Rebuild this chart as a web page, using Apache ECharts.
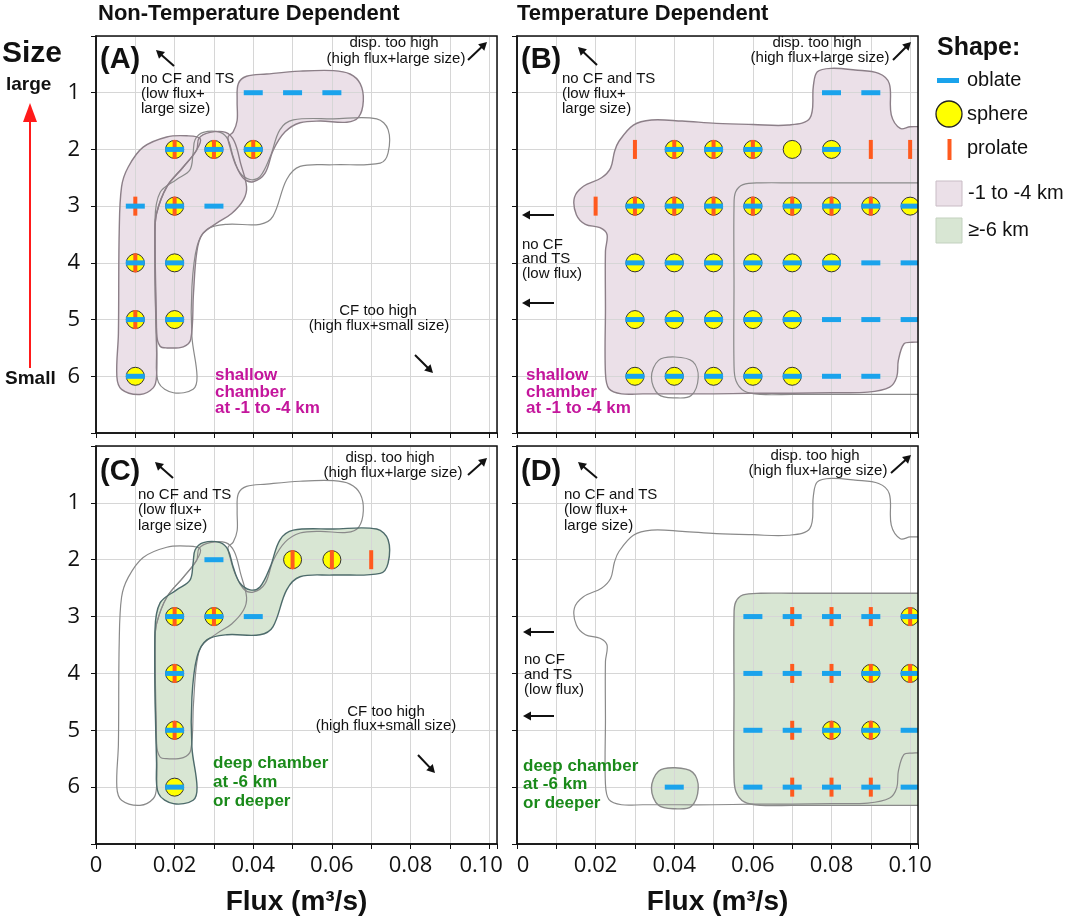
<!DOCTYPE html>
<html><head><meta charset="utf-8">
<script src="https://cdn.jsdelivr.net/npm/echarts@6/dist/echarts.min.js"></script>
<style>html,body{margin:0;padding:0;background:#fff}#c{width:1065px;height:921px}</style>
</head><body><div id="c"></div>
<script>
// ---------- tick labels ----------
const xTickLabels = ['0','0.02','0.04','0.06','0.08','0.10'];
const yTickLabels = ['1','2','3','4','5','6'];

// ---------- model results: [flux, size, shape code] (o = oblate, s = sphere, p = prolate) ----------
const pointsA = [
  [0.04,1,'o'],[0.05,1,'o'],[0.06,1,'o'],
  [0.02,2,'sop'],[0.03,2,'sop'],[0.04,2,'sop'],
  [0.01,3,'op'],[0.02,3,'sop'],[0.03,3,'o'],
  [0.01,4,'sop'],[0.02,4,'so'],
  [0.01,5,'sop'],[0.02,5,'so'],
  [0.01,6,'so']
];
const pointsB = [
  [0.08,1,'o'],[0.09,1,'o'],
  [0.03,2,'p'],[0.04,2,'sop'],[0.05,2,'sop'],[0.06,2,'sop'],[0.07,2,'s'],[0.08,2,'so'],[0.09,2,'p'],[0.10,2,'p'],
  [0.02,3,'p'],[0.03,3,'sop'],[0.04,3,'sop'],[0.05,3,'sop'],[0.06,3,'sop'],[0.07,3,'sop'],[0.08,3,'sop'],[0.09,3,'sop'],[0.10,3,'so'],
  [0.03,4,'so'],[0.04,4,'so'],[0.05,4,'so'],[0.06,4,'so'],[0.07,4,'so'],[0.08,4,'so'],[0.09,4,'o'],[0.10,4,'o'],
  [0.03,5,'so'],[0.04,5,'so'],[0.05,5,'so'],[0.06,5,'so'],[0.07,5,'so'],[0.08,5,'o'],[0.09,5,'o'],[0.10,5,'o'],
  [0.03,6,'so'],[0.04,6,'so'],[0.05,6,'so'],[0.06,6,'so'],[0.07,6,'so'],[0.08,6,'o'],[0.09,6,'o']
];
const pointsC = [
  [0.03,2,'o'],[0.05,2,'sp'],[0.06,2,'sp'],[0.07,2,'p'],
  [0.02,3,'sop'],[0.03,3,'sop'],[0.04,3,'o'],
  [0.02,4,'sop'],[0.02,5,'sop'],[0.02,6,'so']
];
const pointsD = [
  [0.06,3,'o'],[0.07,3,'op'],[0.08,3,'op'],[0.09,3,'op'],[0.10,3,'sop'],
  [0.06,4,'o'],[0.07,4,'op'],[0.08,4,'op'],[0.09,4,'sop'],[0.10,4,'sop'],
  [0.06,5,'o'],[0.07,5,'op'],[0.08,5,'sop'],[0.09,5,'sop'],[0.10,5,'o'],
  [0.04,6,'o'],[0.06,6,'o'],[0.07,6,'op'],[0.08,6,'op'],[0.09,6,'op'],[0.10,6,'o']
];

// ---------- chamber regions, outlines in (flux, size) ----------
const shallowNT_left = [[0.0053,6.0],[0.0065,6.23],[0.0112,6.32],[0.0146,6.2],[0.0154,6.0],[0.0154,5.24],[0.0150,3.48],[0.0154,3.13],[0.0180,2.66],[0.0222,2.31],[0.0256,2.01],[0.0265,1.81],[0.0231,1.76],[0.0180,1.78],[0.0120,1.96],[0.0082,2.31],[0.0065,2.66],[0.0059,3.48],[0.0057,5.24]];
const shallowNT_mid = [[0.0262,1.80],[0.0290,1.70],[0.0330,1.70],[0.0352,1.86],[0.0368,2.25],[0.0383,2.66],[0.0375,2.89],[0.0345,3.13],[0.0307,3.30],[0.0269,3.51],[0.0256,3.83],[0.0248,4.53],[0.0241,5.35],[0.0222,5.48],[0.0180,5.50],[0.0163,5.47],[0.0154,5.24],[0.0150,3.48],[0.0154,3.13],[0.0180,2.66],[0.0222,2.31],[0.0256,2.01]];
const shallowNT_top = [[0.0362,0.84],[0.0383,0.71],[0.0434,0.67],[0.0519,0.62],[0.0604,0.61],[0.0646,0.67],[0.0672,0.84],[0.0680,1.14],[0.0668,1.43],[0.0638,1.52],[0.0570,1.50],[0.0519,1.53],[0.0481,1.69],[0.0451,2.01],[0.0430,2.42],[0.0400,2.57],[0.0375,2.51],[0.0354,2.25],[0.0341,1.96],[0.0336,1.78],[0.0349,1.69],[0.0359,1.49],[0.0359,1.14]];
const deepNT = [[0.0197,6.29],[0.0159,6.11],[0.0154,5.58],[0.0150,3.24],[0.0163,2.76],[0.0205,2.53],[0.0239,2.36],[0.0247,2.06],[0.0252,1.83],[0.0273,1.70],[0.0316,1.70],[0.0336,1.83],[0.0349,2.13],[0.0366,2.41],[0.0392,2.53],[0.0417,2.48],[0.0443,2.13],[0.0468,1.65],[0.0502,1.48],[0.0604,1.46],[0.0714,1.46],[0.0743,1.65],[0.0743,2.06],[0.0723,2.24],[0.0603,2.27],[0.0519,2.30],[0.0485,2.53],[0.0450,3.18],[0.0417,3.32],[0.0333,3.32],[0.0282,3.41],[0.0257,3.71],[0.0244,4.42],[0.0244,5.30],[0.0257,6.0],[0.0247,6.23]];
const shallowT = [[0.0259,1.86],[0.0296,1.57],[0.0342,1.48],[0.0420,1.50],[0.0507,1.54],[0.0600,1.56],[0.0690,1.57],[0.0745,1.45],[0.0754,0.87],[0.0764,0.63],[0.0800,0.57],[0.0860,0.60],[0.0920,0.66],[0.0947,0.84],[0.0952,1.39],[0.0975,1.63],[0.1000,1.60],[0.1030,1.60],[0.1050,1.60],[0.1050,2.2],[0.1050,3.5],[0.1050,4.8],[0.1050,5.40],[0.1030,5.40],[0.1005,5.40],[0.0984,5.43],[0.0970,5.72],[0.0966,6.01],[0.0948,6.19],[0.0892,6.28],[0.0800,6.29],[0.0700,6.30],[0.0597,6.30],[0.0500,6.31],[0.0414,6.31],[0.0320,6.31],[0.0266,6.31],[0.0234,6.22],[0.0225,5.95],[0.0225,4.8],[0.0225,3.79],[0.0229,3.50],[0.0211,3.38],[0.0174,3.32],[0.0151,3.15],[0.0146,2.85],[0.0169,2.65],[0.0215,2.50],[0.0238,2.33],[0.0248,2.04]];
const deepT_block = [[0.0552,3.0],[0.0556,2.75],[0.0575,2.62],[0.0620,2.59],[0.0700,2.59],[0.0800,2.59],[0.0900,2.59],[0.0980,2.59],[0.1020,2.59],[0.1050,2.59],[0.1050,3.0],[0.1050,4.5],[0.1050,6.0],[0.1050,6.32],[0.1020,6.32],[0.0980,6.32],[0.0900,6.32],[0.0800,6.32],[0.0700,6.32],[0.0620,6.32],[0.0578,6.26],[0.0557,6.08],[0.0552,5.8],[0.0552,4.4]];
const deepT_small = [[0.0342,6.02],[0.0360,5.72],[0.0402,5.66],[0.0447,5.74],[0.0461,6.02],[0.0443,6.34],[0.0402,6.38],[0.0360,6.32]];

// ---------- styles ----------
const PINK = '#ebe0e8', PINK_LINE = '#8c7f88';
const GREEN = '#d8e6d3', GREEN_LINE = '#4d6b6b';
const GRAY_LINE = '#8a8a8a';
const BLUE = '#1aa3ec', ORANGE = '#ff5a1e', YELLOW = '#ffff00';
const SANS = "'Liberation Sans', Arial, sans-serif";
const TICKFONT = "'Open Sans', sans-serif";

const grids = [
  {left:96, top:36, width:401, height:397},
  {left:517, top:36, width:401, height:397},
  {left:96, top:446, width:401, height:398},
  {left:517, top:446, width:401, height:398}
];

function markerRender(list){
  return function(params, api){
    const t = list[params.dataIndex][2];
    const c = api.coord([api.value(0), api.value(1)]);
    const kids = [];
    if (t.indexOf('s') >= 0) kids.push({type:'circle', shape:{cx:c[0], cy:c[1], r:9}, style:{fill:YELLOW, stroke:'#333', lineWidth:1}});
    if (t.indexOf('p') >= 0) kids.push({type:'rect', shape:{x:c[0]-2, y:c[1]-9.5, width:4, height:19}, style:{fill:ORANGE}});
    if (t.indexOf('o') >= 0) kids.push({type:'rect', shape:{x:c[0]-9.5, y:c[1]-2.5, width:19, height:5}, style:{fill:BLUE}});
    return {type:'group', children:kids};
  };
}
function markerSeries(gi, list){
  return {type:'custom', xAxisIndex:gi, yAxisIndex:gi, z:6, clip:true, silent:true,
    data:list.map(p=>[p[0],p[1]]), renderItem:markerRender(list)};
}
function polySeries(gi, parts, style, z){
  return {type:'custom', xAxisIndex:gi, yAxisIndex:gi, z:z, clip:true, silent:true,
    data:parts.map(()=>[0.05,3]),
    renderItem:(params, api)=>({type:'polygon',
      shape:{points:parts[params.dataIndex].map(p=>api.coord(p)), smooth:0.35},
      style:style})};
}

const panels = [
  {fill:[shallowNT_left, shallowNT_mid, shallowNT_top], fillColor:PINK, fillLine:PINK_LINE, other:[deepNT], pts:pointsA},
  {fill:[shallowT], fillColor:PINK, fillLine:PINK_LINE, other:[deepT_block, deepT_small], pts:pointsB},
  {fill:[deepNT], fillColor:GREEN, fillLine:GREEN_LINE, other:[shallowNT_left, shallowNT_mid, shallowNT_top], pts:pointsC},
  {fill:[deepT_block, deepT_small], fillColor:GREEN, fillLine:GRAY_LINE, other:[shallowT], pts:pointsD}
];

const series = [];
panels.forEach((p, gi)=>{
  series.push(polySeries(gi, p.fill, {fill:p.fillColor, stroke:null, lineWidth:0}, 0));
  series.push(polySeries(gi, p.other, {fill:'none', stroke:GRAY_LINE, lineWidth:1.2}, 3));
  series.push(polySeries(gi, p.fill, {fill:'none', stroke:p.fillLine, lineWidth:1.4}, 4));
  series.push(markerSeries(gi, p.pts));
});

const xAxes = grids.map((g, gi)=>({
  type:'value', gridIndex:gi, min:0, max:0.102, interval:0.01, z:1,
  axisLine:{show:true, onZero:false, lineStyle:{color:'#111', width:1.5}},
  axisTick:{show:true, length:5, lineStyle:{color:'#111', width:1}},
  axisLabel:{show:gi>=2, margin:11, fontSize:22, fontFamily:TICKFONT, color:'#111',
    formatter:v=>{
      const k=Math.round(v*1000); if (k%20!==0) return '';
      const s = xTickLabels[k/20]||'';
      if (gi===3 && k===0) return '{z|'+s+'}';
      if (gi===2 && k===100) return '{r|'+s+'}';
      return s;
    },
    rich:{
      z:{fontSize:22, fontFamily:TICKFONT, color:'#111', padding:[0,0,0,12]},
      r:{fontSize:22, fontFamily:TICKFONT, color:'#111', padding:[0,16,0,0]}
    }},
  splitLine:{show:true, lineStyle:{color:'#d6d6d6', width:1}},
  name: gi>=2 ? 'Flux (m³/s)' : '', nameLocation:'middle', nameGap:44,
  nameTextStyle:{fontSize:28, fontWeight:'bold', fontFamily:SANS, color:'#111'}
}));
const yAxes = grids.map((g, gi)=>({
  type:'value', gridIndex:gi, min:0, max:7, interval:1, inverse:true, z:1,
  axisLine:{show:true, onZero:false, lineStyle:{color:'#111', width:1.5}},
  axisTick:{show:true, length:5, lineStyle:{color:'#111', width:1}},
  axisLabel:{show:gi%2===0, margin:16, fontSize:22, fontFamily:TICKFONT, color:'#111',
    formatter:v=>{const k=Math.round(v); return (k>=1&&k<=6)? yTickLabels[k-1] : '';}},
  splitLine:{show:true, lineStyle:{color:'#d6d6d6', width:1}}
}));

// ---------- annotations ----------
const graphics = [];
function txt(t, x, y, font, opts){
  opts = opts || {};
  graphics.push({type:'text', z:100, silent:true, style:{text:t, x:x, y:y, font:font,
    fill:opts.color||'#111', textAlign:opts.align||'left', textVerticalAlign:'middle'}});
}
function arrow(x1, y1, x2, y2, color, w, hl, hw){
  color = color || '#111'; w = w || 2; hl = hl || 8; hw = hw || 4.5;
  const dx = x2-x1, dy = y2-y1, L = Math.sqrt(dx*dx+dy*dy), ux = dx/L, uy = dy/L;
  const bx = x2-ux*hl, by = y2-uy*hl;
  graphics.push({type:'line', z:100, silent:true, shape:{x1:x1, y1:y1, x2:bx+ux*1, y2:by+uy*1}, style:{stroke:color, lineWidth:w}});
  graphics.push({type:'polygon', z:100, silent:true, shape:{points:[[x2,y2],[bx-uy*hw, by+ux*hw],[bx+uy*hw, by-ux*hw]]}, style:{fill:color}});
}
const F15 = '15px ' + SANS;
const FB17 = 'bold 17px ' + SANS;
const MAG = '#c4169c', DGREEN = '#1a8a1a';

txt('Non-Temperature Dependent', 98, 14, 'bold 22px ' + SANS);
txt('Temperature Dependent', 517, 14, 'bold 22px ' + SANS);
txt('Size', 2, 54, 'bold 30px ' + SANS);
txt('large', 6, 85, 'bold 19px ' + SANS);
txt('Small', 5, 379, 'bold 19px ' + SANS);
arrow(30, 368, 30, 103, '#ff1a1a', 2, 19, 7);

[['(A)',100,60],['(B)',521,60],['(C)',100,472],['(D)',521,472]].forEach(a=>txt(a[0], a[1], a[2], 'bold 29px ' + SANS));

// A
txt('no CF and TS', 141, 79, F15); txt('(low flux+', 141, 94, F15); txt('large size)', 141, 109, F15);
txt('disp. too high', 394, 43, F15, {align:'center'}); txt('(high flux+large size)', 396, 59, F15, {align:'center'});
txt('CF too high', 378, 311, F15, {align:'center'}); txt('(high flux+small size)', 379, 326, F15, {align:'center'});
txt('shallow', 215, 375, FB17, {color:MAG}); txt('chamber', 215, 392, FB17, {color:MAG}); txt('at -1 to -4 km', 215, 408, FB17, {color:MAG});
arrow(174, 66, 156, 50); arrow(468, 60, 487, 42); arrow(415, 355, 433, 373);
// B
txt('no CF and TS', 562, 79, F15); txt('(low flux+', 562, 94, F15); txt('large size)', 562, 109, F15);
txt('disp. too high', 817, 43, F15, {align:'center'}); txt('(high flux+large size)', 820, 58, F15, {align:'center'});
txt('no CF', 522, 245, F15); txt('and TS', 522, 259, F15); txt('(low flux)', 522, 274, F15);
txt('shallow', 526, 375, FB17, {color:MAG}); txt('chamber', 526, 392, FB17, {color:MAG}); txt('at -1 to -4 km', 526, 408, FB17, {color:MAG});
arrow(597, 65, 578, 47); arrow(893, 60, 911, 42); arrow(554, 215, 522, 215); arrow(554, 303, 522, 303);
// C
txt('no CF and TS', 138, 495, F15); txt('(low flux+', 138, 510, F15); txt('large size)', 138, 526, F15);
txt('disp. too high', 390, 458, F15, {align:'center'}); txt('(high flux+large size)', 393, 473, F15, {align:'center'});
txt('CF too high', 386, 712, F15, {align:'center'}); txt('(high flux+small size)', 386, 726, F15, {align:'center'});
txt('deep chamber', 213, 763, FB17, {color:DGREEN}); txt('at -6 km', 213, 782, FB17, {color:DGREEN}); txt('or deeper', 213, 801, FB17, {color:DGREEN});
arrow(173, 478, 155, 462); arrow(468, 475, 487, 458); arrow(418, 755, 435, 773);
// D
txt('no CF and TS', 564, 495, F15); txt('(low flux+', 564, 510, F15); txt('large size)', 564, 526, F15);
txt('disp. too high', 815, 456, F15, {align:'center'}); txt('(high flux+large size)', 818, 471, F15, {align:'center'});
txt('no CF', 524, 660, F15); txt('and TS', 524, 675, F15); txt('(low flux)', 524, 690, F15);
txt('deep chamber', 523, 766, FB17, {color:DGREEN}); txt('at -6 km', 523, 784, FB17, {color:DGREEN}); txt('or deeper', 523, 803, FB17, {color:DGREEN});
arrow(597, 478, 578, 462); arrow(891, 473, 911, 455); arrow(554, 632, 523, 632); arrow(554, 716, 523, 716);

// legend
txt('Shape:', 937, 48, 'bold 25px ' + SANS);
graphics.push({type:'rect', z:100, shape:{x:937, y:78, width:22, height:5}, style:{fill:BLUE}});
graphics.push({type:'circle', z:100, shape:{cx:949, cy:114, r:13}, style:{fill:YELLOW, stroke:'#222', lineWidth:1.3}});
graphics.push({type:'rect', z:100, shape:{x:947.5, y:139, width:4, height:21}, style:{fill:ORANGE}});
graphics.push({type:'rect', z:100, shape:{x:936, y:181, width:26, height:25}, style:{fill:PINK, stroke:'#c9bcc5', lineWidth:1}});
graphics.push({type:'rect', z:100, shape:{x:936, y:218, width:26, height:25}, style:{fill:GREEN, stroke:'#c3d1bf', lineWidth:1}});
const F20 = '20px ' + SANS;
txt('oblate', 967, 80, F20); txt('sphere', 967, 114, F20); txt('prolate', 967, 148, F20);
txt('-1 to -4 km', 968, 193, F20); txt('≥-6 km', 968, 230, F20);

const chart = echarts.init(document.getElementById('c'), null, {renderer:'canvas'});
chart.setOption({
  animation:false,
  backgroundColor:'#fff',
  grid:grids.map(g=>Object.assign({show:true, borderColor:'#111', borderWidth:1.5, backgroundColor:'transparent', z:10}, g)),
  xAxis:xAxes, yAxis:yAxes,
  series:series,
  graphic:{elements:graphics}
});
</script></body></html>
